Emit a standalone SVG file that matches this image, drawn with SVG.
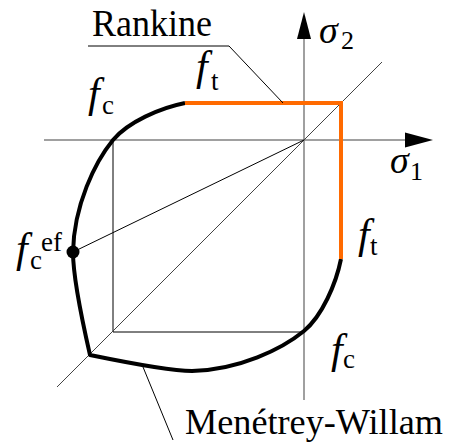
<svg xmlns="http://www.w3.org/2000/svg" width="455" height="443" viewBox="0 0 455 443">
<style>
.axis{stroke:#808080;stroke-width:1.5;fill:none}
.thin{stroke:#000;stroke-width:1;fill:none}
.diag{stroke:#444;stroke-width:1;fill:none}
.mw{stroke:#000;stroke-width:4;fill:none;stroke-linejoin:round}
.rk{stroke:#FF6A00;stroke-width:4;fill:none}
text{font-family:'Liberation Serif','Times New Roman',Times,serif;fill:#000}
.it{font-style:italic}
.f{font-style:italic;font-size:42px}
.s{font-size:27px}
</style>
<rect width="455" height="443" fill="#fff"/>
<g id="axes">
<line class="axis" x1="44" y1="140" x2="406" y2="140"/>
<polygon points="433,140 405,132.5 405,147.5" fill="#000"/>
<line class="axis" x1="304" y1="400" x2="304" y2="38"/>
<polygon points="304,12 297,39 311,39" fill="#000"/>
</g>
<g id="guides">
<polyline class="thin" points="113,140 113,332 304,332"/>
<line class="diag" x1="382" y1="62" x2="57" y2="387"/>
<line class="thin" x1="304" y1="140" x2="73" y2="252"/>
</g>
<g id="menetrey-willam">
<path class="mw" d="M185,103 C160,108 128,122 113,140 C95,162 74,205 73,252 C73,275 82,320 90,355 C124,362 169,371 192,371 C239,370 282,349 304,331 C322,316 336,284 341,259"/>
<circle cx="73" cy="252" r="6.5" fill="#000"/>
</g>
<g id="rankine">
<polyline class="rk" points="185,103 341,103 341,259"/>
</g>
<g id="connectors">
<polyline class="thin" points="88,46 229,46 283,103"/>
<line class="thin" x1="143" y1="367" x2="173" y2="440"/>
</g>
<g id="labels">
<text x="92" y="36" font-size="38" textLength="120" lengthAdjust="spacingAndGlyphs">Rankine</text>
<text x="185" y="434" font-size="36" textLength="258" lengthAdjust="spacingAndGlyphs">Menétrey-Willam</text>
<text x="319" y="43" font-size="38" class="it">σ</text>
<text x="341" y="49" font-size="26">2</text>
<text x="390" y="173" font-size="38" class="it">σ</text>
<text x="410" y="180" font-size="26">1</text>
<text x="88" y="107" class="f">f</text>
<text x="102" y="114" class="s">c</text>
<text x="196" y="80" class="f">f</text>
<text x="211" y="90" class="s">t</text>
<text x="358" y="248" class="f">f</text>
<text x="370" y="255" class="s">t</text>
<text x="331" y="363" class="f">f</text>
<text x="343" y="368" class="s">c</text>
<text x="16" y="262" class="f">f</text>
<text x="30" y="269" class="s">c</text>
<text x="41" y="251" class="s">ef</text>
</g>
</svg>
